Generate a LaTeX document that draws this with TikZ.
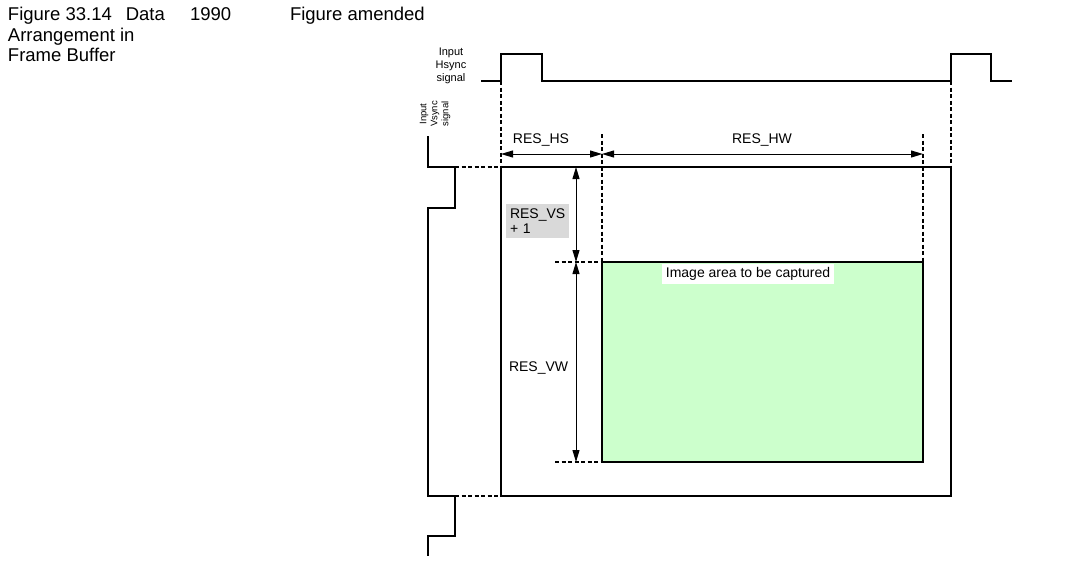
\documentclass[tikz,border=0pt]{standalone}
\usepackage{fontspec}
\setmainfont{Liberation Sans}
\usetikzlibrary{calc,
                 arrows.meta
  }
\definecolor{capture}{RGB}{204,255,204}
\definecolor{vsgray}{RGB}{217,217,217}

\begin{document}
\begin{tikzpicture}[
      x=1pt, y=-1pt,
      >={Triangle[length=12pt,width=7pt]},
      every node/.style={inner sep=0pt, outer sep=0pt},
      signal/.style={line width=2.4pt},
      guide/.style={line width=2.2pt, dash pattern=on 4pt off 2.5pt},
      dim/.style={line width=1pt, <->},
      area/.style={
                rectangle,
                draw=black,
                line width=2.4pt
                },
      lbl/.style={font=\fontsize{14}{15}\selectfont},
      title/.style={font=\fontsize{18.5}{20.5}\selectfont, align=left, anchor=north west},
      siglbl/.style={font=\fontsize{11}{13}\selectfont, align=center}
]
\useasboundingbox (0,0) rectangle (1081,562);

% caption line
\node[title] (cap)   at (8,7.5)   {Figure 33.14\hspace{14pt}Data\\Arrangement in\\Frame Buffer};
\node[title] (year)  at (190,7.5) {1990};
\node[title] (amend) at (290,7.5) {Figure amended};

% frame buffer and captured area
\node[area, minimum width=450pt, minimum height=329pt] (frame) at (726,331.5) {};
\node[area, fill=capture, minimum width=321pt, minimum height=200pt] (img) at (762.5,362) {};
\node[lbl, fill=white, inner xsep=4pt, inner ysep=3pt] (imglbl) at (748,274) {Image area to be captured};

% sync signals
\node[siglbl] (hsynclbl) at (451,66) {Input\\Hsync\\signal};
\node[siglbl, font=\fontsize{9.5}{11}\selectfont, rotate=90] (vsynclbl) at (435,114) {Input\\Vsync\\signal};

\draw[signal] (481,81) -- (501,81) -- (501,54) -- (542,54) -- (542,81)
              -- (951,81) -- (951,54) -- (991,54) -- (991,81) -- (1012,81);
\draw[signal] (428,136) -- (428,167) -- (455,167) -- (455,208) -- (428,208)
              -- (428,496) -- (455,496) -- (455,536) -- (428,536) -- (428,556);

% guides
\coordinate (hsTop) at (501,81);
\coordinate (heTop) at (951,81);
\coordinate (hwL) at (602,134);
\coordinate (hwR) at (923,134);
\coordinate (vsT) at (455,167);
\coordinate (vsB) at (455,496);
\coordinate (vwT) at (555,262);
\coordinate (vwB) at (555,462);

\draw[guide] (hsTop) -- (frame.north west);
\draw[guide] (heTop) -- (frame.north east);
\draw[guide] (hwL) -- (img.north west);
\draw[guide] (hwR) -- (img.north east);
\draw[guide] (vsT) -- (frame.north west);
\draw[guide] (vsB) -- (frame.south west);
\draw[guide] (vwT) -- (img.north west);
\draw[guide] (vwB) -- (img.south west);

% dimensions
\coordinate (hsA) at (501,154);
\coordinate (hsB) at (602,154);
\coordinate (hwB) at (923,154);
\coordinate (vsA) at (576,167);
\coordinate (vsC) at (576,262);
\coordinate (vwC) at (576,462);

\draw[dim] (hsA) -- (hsB);
\draw[dim] (hsB) -- (hwB);
\draw[dim] (vsA) -- (vsC);
\draw[dim] (vsC) -- (vwC);

\node[lbl] (reshs) at (541,140) {RES\_HS};
\node[lbl] (reshw) at (762,140) {RES\_HW};
\node[lbl, fill=vsgray, align=left, text width=55pt, inner xsep=4pt, inner ysep=3pt,
      minimum height=34pt, anchor=north west] (resvs) at (506,204) {RES\_VS\\+ 1};
\node[lbl, anchor=west] (resvw) at (509,368) {RES\_VW};

\end{tikzpicture}
\end{document}
